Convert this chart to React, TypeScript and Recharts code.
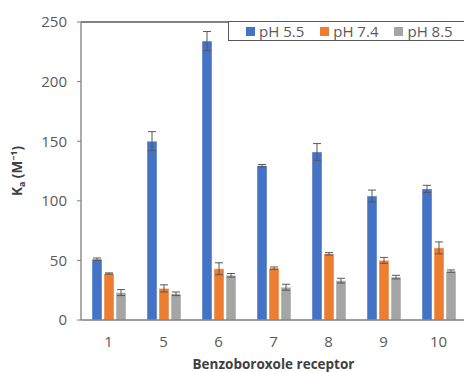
import React from "react";
import { BarChart, Bar, XAxis, YAxis, ErrorBar, ReferenceLine, Label } from "recharts";

const categories = ["1", "5", "6", "7", "8", "9", "10"];
const ph55 = [51, 150, 234, 129.5, 141, 104, 110];
const ph55Err = [1, 8, 8, 1, 7, 5, 3];
const ph74 = [39, 26.5, 43, 43.5, 55.5, 50, 60.5];
const ph74Err = [0.5, 3, 5, 1, 1, 2.5, 5];
const ph85 = [23, 22, 37.5, 27.5, 33, 36, 41];
const ph85Err = [2.5, 1.5, 1.5, 2.5, 2, 1.5, 1];
const yTicks = [0, 50, 100, 150, 200, 250];

const seriesNames = ["pH 5.5", "pH 7.4", "pH 8.5"];
const colors = ["#4472C4", "#ED7D31", "#A5A5A5"];

const data = categories.map((c, i) => ({
  name: c,
  a: ph55[i],
  ae: ph55Err[i],
  b: ph74[i],
  be: ph74Err[i],
  c: ph85[i],
  ce: ph85Err[i],
}));

const FONT = "'Open Sans', 'DejaVu Sans', sans-serif";

const LegendBox = () => (
  <div
    style={{
      position: "absolute",
      left: 228,
      top: 21,
      border: "1.5px solid #595959",
      borderRight: "none",
      height: 20,
      width: 240,
      display: "flex",
      alignItems: "center",
      fontFamily: FONT,
      fontSize: 15,
      color: "#595959",
      boxSizing: "border-box",
      background: "#fff",
    }}
  >
    {seriesNames.map((n, i) => (
      <div key={n} style={{ display: "flex", alignItems: "center", marginLeft: i === 0 ? 17 : 16 }}>
        <div style={{ width: 9, height: 9, background: colors[i], marginRight: 4 }} />
        <span style={{ lineHeight: "16px" }}>{n}</span>
      </div>
    ))}
  </div>
);

const YLabel = () => (
  <text
    x={22}
    y={171}
    transform="rotate(-90 22 171)"
    textAnchor="middle"
    fontFamily={FONT}
    fontWeight="bold"
    fontSize={13.5}
    fill="#404040"
  >
    K
    <tspan dy={3} fontSize={9}>a</tspan>
    <tspan dy={-3}> (M</tspan>
    <tspan dy={-5} fontSize={9}>−1</tspan>
    <tspan dy={5}>)</tspan>
  </text>
);

export default function App() {
  return (
    <div style={{ position: "absolute", left: 0, top: 0, width: 464, height: 372, overflow: "hidden", background: "#fff" }}>
      <BarChart
        width={466}
        height={372}
        data={data}
        margin={{ top: 22, right: 0, left: 0, bottom: 0 }}
        barCategoryGap="21%"
        barGap={2}
      >
        <XAxis
          dataKey="name"
          height={52}
          tickSize={0}
          tickMargin={16}
          axisLine={{ stroke: "#7f7f7f", strokeWidth: 1.3 }}
          tick={{ fill: "#595959", fontSize: 15, fontFamily: FONT }}
        >
          <Label
            value="Benzoboroxole receptor"
            position="insideBottom"
            offset={3}
            style={{ fontFamily: FONT, fontWeight: "bold", fontSize: 13.5, fill: "#404040" }}
          />
        </XAxis>
        <YAxis
          width={81}
          domain={[0, 250]}
          ticks={yTicks}
          interval={0}
          tickSize={4}
          tickMargin={10}
          axisLine={{ stroke: "#7f7f7f", strokeWidth: 1.3 }}
          tickLine={{ stroke: "#7f7f7f" }}
          tick={{ fill: "#595959", fontSize: 15, fontFamily: FONT }}
          label={<YLabel />}
        />
        <ReferenceLine y={250} stroke="#595959" strokeWidth={1.3} />
        <Bar dataKey="a" name={seriesNames[0]} fill={colors[0]} barSize={10} stroke="#ffffff" strokeOpacity={0.45} isAnimationActive={false}>
          <ErrorBar dataKey="ae" width={4} stroke="#595959" strokeWidth={1} direction="y" isAnimationActive={false} />
        </Bar>
        <Bar dataKey="b" name={seriesNames[1]} fill={colors[1]} barSize={10} stroke="#ffffff" strokeOpacity={0.45} isAnimationActive={false}>
          <ErrorBar dataKey="be" width={4} stroke="#595959" strokeWidth={1} direction="y" isAnimationActive={false} />
        </Bar>
        <Bar dataKey="c" name={seriesNames[2]} fill={colors[2]} barSize={10} stroke="#ffffff" strokeOpacity={0.45} isAnimationActive={false}>
          <ErrorBar dataKey="ce" width={4} stroke="#595959" strokeWidth={1} direction="y" isAnimationActive={false} />
        </Bar>
      </BarChart>
      <LegendBox />
    </div>
  );
}
